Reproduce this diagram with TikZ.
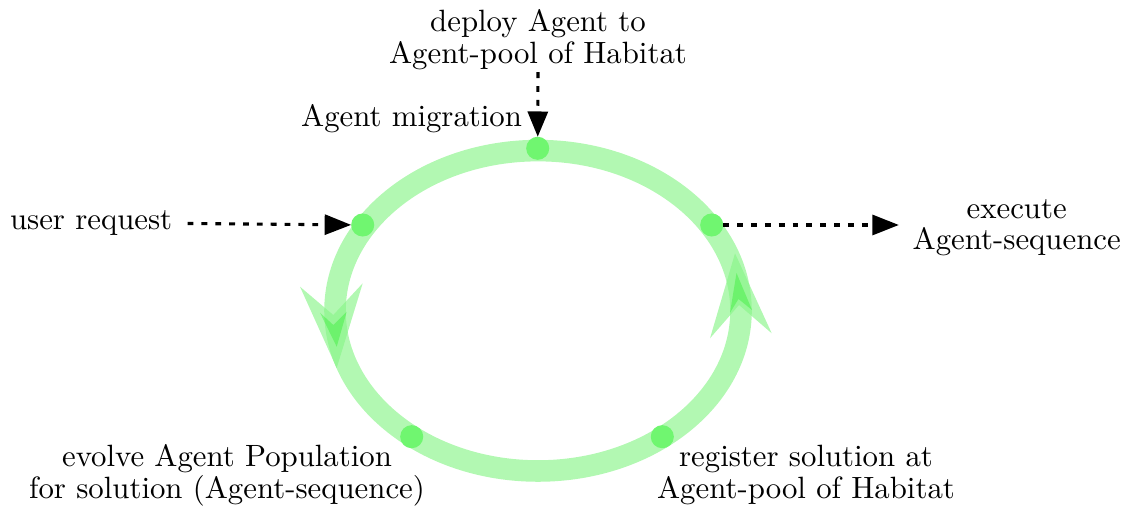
\documentclass[tikz,border=0pt]{standalone}
\usetikzlibrary{arrows.meta}
\definecolor{cyc}{RGB}{0,232,0}
\definecolor{dotc}{RGB}{112,246,112}
\begin{document}
\begin{tikzpicture}[x=0.3247pt,y=-0.3247pt,
  lbl/.style={inner sep=0pt,outer sep=0pt,align=center,font=\fontsize{10}{10.25}\selectfont},
  stage/.style={circle,fill=dotc,inner sep=0pt,outer sep=0pt,minimum size=7.5pt},
  flow/.style={line width=1pt,dash pattern=on 1.9pt off 2.6pt,-{Triangle[length=8.6pt,width=6.5pt]}},
  band/.style={draw=cyc,line width=7pt},
  bighead/.style={fill=cyc},
  smallhead/.style={fill=cyc,fill opacity=0.28}]
\useasboundingbox (0,0) rectangle (1129,508);
% cycle band with its direction heads, as one translucent group
\begin{scope}[transparency group,opacity=0.3]
\draw[band] (538,310.8) ellipse [x radius=203, y radius=160.2];
\path[bighead] (300,286.7) -- (333.3,315) -- (362.7,283.3) -- (336.7,368) -- cycle;
\path[bighead] (710,338.3) -- (739,305) -- (771.7,333.3) -- (735,253.3) -- cycle;
\end{scope}
% slight darkening where the big heads cross the band
\begin{scope}
\clip (300,286.7) -- (333.3,315) -- (362.7,283.3) -- (336.7,368) -- cycle
      (710,338.3) -- (739,305) -- (771.7,333.3) -- (735,253.3) -- cycle;
\draw[band,draw opacity=0.15] (538,310.8) ellipse [x radius=203, y radius=160.2];
\end{scope}
\path[smallhead] (320,312.7) -- (333.3,325) -- (346.7,311.7) -- (336.7,346.7) -- cycle;
\path[smallhead] (730,312.7) -- (738.5,299) -- (752,310) -- (736.5,273) -- cycle;
% stages
\node[stage] (dtop) at (537.7,148.3) {};
\node[stage] (dleft) at (362.7,225) {};
\node[stage] (dright) at (711.7,225) {};
\node[stage] (dll) at (411.7,436.7) {};
\node[stage] (dlr) at (662.3,436.7) {};
% labels
\node[lbl] (tdeploy) at (538,39.75) {deploy Agent to\\Agent-pool of Habitat};
\node[lbl,anchor=base east] (tmig) at (522,126.7) {Agent migration};
\node[lbl,anchor=base west] (tuser) at (10,230) {user request};
\node[lbl] (texec) at (1016.7,227.7) {execute\\Agent-sequence};
\node[lbl] (tevolve) at (227,475.6) {evolve Agent Population\\for solution (Agent-sequence)};
\node[lbl] (treg) at (806,474.75) {register solution at\\Agent-pool of Habitat};
% connectors
\draw[flow,shorten <=5pt] (tuser.mid east) -- (dleft);
\draw[flow,shorten >=4.5pt] (dright) -- (dright -| texec.west);
\draw[flow,shorten <=0.8pt,-{Triangle[length=8.2pt,width=6.5pt]}] (tdeploy.south) -- (dtop);
\end{tikzpicture}
\end{document}
